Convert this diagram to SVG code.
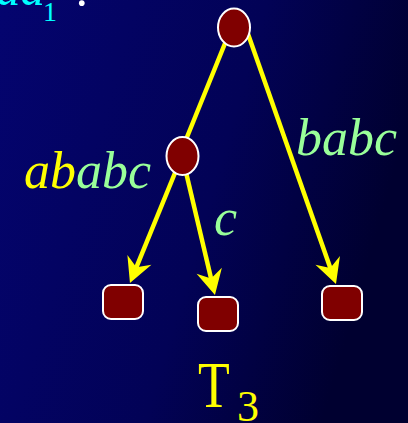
<svg xmlns="http://www.w3.org/2000/svg" width="408" height="423" viewBox="0 0 408 423">
<defs>
<linearGradient id="bg" x1="0" y1="0" x2="1" y2="0.3">
<stop offset="0" stop-color="#04046F"/>
<stop offset="0.6" stop-color="#020256"/>
<stop offset="1" stop-color="#000030"/>
</linearGradient>
<marker id="arr" markerUnits="userSpaceOnUse" orient="auto" refX="0" refY="0" markerWidth="30" markerHeight="30" overflow="visible">
<path d="M12,0 L-13,-13 L-5,0 L-13,13 Z" fill="#FFFF00"/>
</marker>
<style>
.node{fill:#800000;stroke:#FFFFFF;stroke-width:2}
.edge{stroke:#FFFF00;stroke-width:4.5;fill:none}
.lbl{font-family:"Liberation Serif","Times New Roman",serif;font-style:italic;font-size:52px}
.g{fill:#99FF99}
.y{fill:#FFFF00}
</style>
</defs>
<rect width="408" height="423" fill="url(#bg)"/>
<g id="title-fragment" font-family="Liberation Serif, Times New Roman, serif">
<text x="45" y="5" text-anchor="end" font-size="49" font-style="italic" fill="#00FFFF">aa</text>
<text x="43" y="21" font-size="28" fill="#00FFFF">1</text>
<text x="75" y="5.5" font-size="49" fill="#FFFFFF">:</text>
</g>
<g id="connectors">
<line class="edge" x1="228" y1="36" x2="185" y2="142"/>
<line class="edge" x1="248" y1="34" x2="332" y2="272.7" marker-end="url(#arr)"/>
<line class="edge" x1="177" y1="168" x2="134.5" y2="271.9" marker-end="url(#arr)"/>
<line class="edge" x1="185" y1="168" x2="212.2" y2="283.3" marker-end="url(#arr)"/>
</g>
<g id="root"><ellipse class="node" cx="234" cy="27.5" rx="16" ry="19"/></g>
<g id="mid"><ellipse class="node" cx="182.5" cy="156" rx="16" ry="19"/></g>
<g id="leaf1"><rect class="node" x="103" y="285" width="40" height="34" rx="8"/></g>
<g id="leaf2"><rect class="node" x="198" y="297" width="40" height="34" rx="8"/></g>
<g id="leaf3"><rect class="node" x="322" y="286" width="40" height="34" rx="8"/></g>
<g id="labels">
<text class="lbl" x="24" y="188"><tspan class="y">ab</tspan><tspan class="g">abc</tspan></text>
<text class="lbl g" x="214" y="235">c</text>
<text class="lbl g" x="296" y="155">babc</text>
</g>
<g id="caption" font-family="Liberation Serif, Times New Roman, serif" fill="#FFFF00">
<text transform="translate(198,407) scale(1,1.27)" font-size="52">T</text>
<text x="237" y="421" font-size="44">3</text>
</g>
</svg>
